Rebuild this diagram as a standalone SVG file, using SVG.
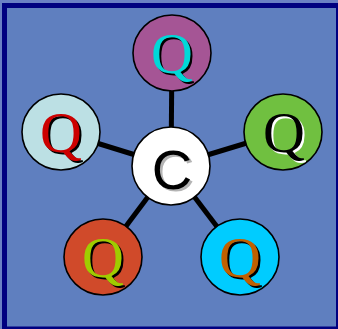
<svg xmlns="http://www.w3.org/2000/svg" width="338" height="329" viewBox="0 0 338 329">
<style>
.node{stroke:#000;stroke-width:1.6}
.q{font-family:"Liberation Serif",serif;font-size:58px;text-anchor:middle}
.c{font-family:"Liberation Sans",sans-serif;font-size:56px;text-anchor:middle}
.link{stroke:#000;stroke-width:5}
</style>
<rect x="0" y="0" width="338" height="329" fill="#6a80c4"/>
<rect x="4.5" y="5.5" width="334" height="323.5" fill="#5f7fbf" stroke="#000080" stroke-width="5"/>
<g id="connectors">
<line class="link" x1="171" y1="166" x2="172" y2="53"/>
<line class="link" x1="171" y1="166" x2="61" y2="132"/>
<line class="link" x1="171" y1="166" x2="283" y2="132"/>
<line class="link" x1="171" y1="166" x2="103" y2="257"/>
<line class="link" x1="171" y1="166" x2="240" y2="257"/>
</g>
<g id="q-top">
<ellipse class="node" cx="172" cy="53" rx="39" ry="38" fill="#a55595"/>
<text class="q" x="174" y="75" fill="#000">Q</text>
<text class="q" x="172" y="73" fill="#00d8d8">Q</text>
</g>
<g id="q-left">
<ellipse class="node" cx="61" cy="132" rx="39" ry="38" fill="#bce0e4"/>
<text class="q" x="63" y="154" fill="#000">Q</text>
<text class="q" x="61" y="152" fill="#cc0000">Q</text>
</g>
<g id="q-right">
<ellipse class="node" cx="283" cy="132" rx="39" ry="38" fill="#70c040"/>
<text class="q" x="286" y="154" fill="#fff">Q</text>
<text class="q" x="284" y="152" fill="#000">Q</text>
</g>
<g id="q-bottom-left">
<ellipse class="node" cx="103" cy="257" rx="39" ry="38" fill="#d04a2a"/>
<text class="q" x="105" y="279" fill="#000">Q</text>
<text class="q" x="103" y="277" fill="#a0cc00">Q</text>
</g>
<g id="q-bottom-right">
<ellipse class="node" cx="240" cy="257" rx="39" ry="38" fill="#00ccff"/>
<text class="q" x="242" y="279" fill="#000">Q</text>
<text class="q" x="240" y="277" fill="#c06000">Q</text>
</g>
<g id="c-center">
<circle class="node" cx="171" cy="166" r="39" fill="#fff"/>
<text class="c" x="174.5" y="191" fill="#b4b4b4">C</text>
<text class="c" x="172" y="189" fill="#000">C</text>
</g>
</svg>
